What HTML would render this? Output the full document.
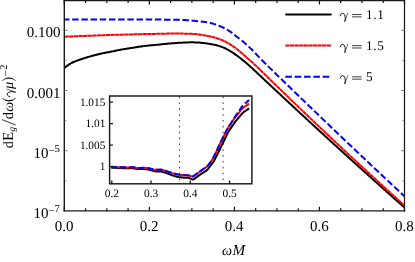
<!DOCTYPE html><html><head><meta charset="utf-8"><style>html,body{margin:0;padding:0;background:#fff;}svg{display:block;will-change:transform;}text{font-family:"Liberation Serif",serif;fill:#000;text-rendering:geometricPrecision;}</style></head><body>
<svg width="415" height="262" viewBox="0 0 415 262">
<rect width="415" height="262" fill="#fff"/>
<filter id="idf" x="0" y="0" width="415" height="262" filterUnits="userSpaceOnUse" color-interpolation-filters="sRGB"><feOffset dx="0" dy="0"/></filter><g filter="url(#idf)">
<defs><clipPath id="cm"><rect x="64.30" y="0" width="341.40" height="210.85"/></clipPath>
<clipPath id="ci"><rect x="109.6" y="96" width="142.5" height="88"/></clipPath></defs>
<g clip-path="url(#cm)" fill="none" stroke-width="2" stroke-linejoin="round">
<path d="M64.50,67.90 L65.50,67.09 L66.50,66.31 L67.50,65.56 L68.50,64.86 L69.50,64.19 L70.50,63.57 L71.50,63.00 L72.50,62.49 L73.50,62.02 L74.50,61.59 L75.50,61.20 L76.50,60.83 L77.50,60.48 L78.50,60.12 L79.50,59.77 L80.50,59.43 L81.50,59.09 L82.50,58.76 L83.50,58.44 L84.50,58.12 L85.50,57.81 L86.50,57.50 L87.50,57.20 L88.50,56.91 L89.50,56.62 L90.50,56.34 L91.50,56.06 L92.50,55.79 L93.50,55.51 L94.50,55.25 L95.50,54.99 L96.50,54.73 L97.50,54.48 L98.50,54.24 L99.50,54.00 L100.50,53.77 L101.50,53.55 L102.50,53.33 L103.50,53.12 L104.50,52.91 L105.50,52.72 L106.50,52.53 L107.50,52.34 L108.50,52.15 L109.50,51.96 L110.50,51.76 L111.50,51.56 L112.50,51.36 L113.50,51.15 L114.50,50.94 L115.50,50.74 L116.50,50.53 L117.50,50.33 L118.50,50.13 L119.50,49.94 L120.50,49.75 L121.50,49.57 L122.50,49.39 L123.50,49.22 L124.50,49.05 L125.50,48.89 L126.50,48.73 L127.50,48.57 L128.50,48.42 L129.50,48.26 L130.50,48.11 L131.50,47.96 L132.50,47.80 L133.50,47.64 L134.50,47.49 L135.50,47.33 L136.50,47.17 L137.50,47.01 L138.50,46.85 L139.50,46.70 L140.50,46.54 L141.50,46.40 L142.50,46.26 L143.50,46.12 L144.50,45.99 L145.50,45.87 L146.50,45.76 L147.50,45.66 L148.50,45.56 L149.50,45.46 L150.50,45.37 L151.50,45.28 L152.50,45.20 L153.50,45.11 L154.50,45.02 L155.50,44.93 L156.50,44.83 L157.50,44.74 L158.50,44.64 L159.50,44.53 L160.50,44.43 L161.50,44.32 L162.50,44.22 L163.50,44.11 L164.50,44.01 L165.50,43.91 L166.50,43.81 L167.50,43.72 L168.50,43.62 L169.50,43.54 L170.50,43.45 L171.50,43.37 L172.50,43.29 L173.50,43.21 L174.50,43.14 L175.50,43.07 L176.50,43.00 L177.50,42.93 L178.50,42.87 L179.50,42.81 L180.50,42.75 L181.50,42.69 L182.50,42.64 L183.50,42.59 L184.50,42.54 L185.50,42.49 L186.50,42.45 L187.50,42.41 L188.50,42.38 L189.50,42.36 L190.50,42.35 L191.50,42.35 L192.50,42.35 L193.50,42.36 L194.50,42.39 L195.50,42.42 L196.50,42.45 L197.50,42.50 L198.50,42.56 L199.50,42.62 L200.50,42.70 L201.50,42.78 L202.50,42.88 L203.50,43.00 L204.50,43.12 L205.50,43.25 L206.50,43.40 L207.50,43.55 L208.50,43.71 L209.50,43.87 L210.50,44.05 L211.50,44.23 L212.50,44.43 L213.50,44.63 L214.50,44.85 L215.50,45.07 L216.50,45.32 L217.50,45.57 L218.50,45.85 L219.50,46.15 L220.50,46.47 L221.50,46.81 L222.50,47.19 L223.50,47.59 L224.50,48.03 L225.50,48.49 L226.50,48.99 L227.50,49.52 L228.50,50.07 L229.50,50.65 L230.50,51.25 L231.50,51.87 L232.50,52.51 L233.50,53.18 L234.50,53.87 L235.50,54.57 L236.50,55.30 L237.50,56.04 L238.50,56.79 L239.50,57.54 L240.50,58.31 L241.50,59.09 L242.50,59.88 L243.50,60.68 L244.50,61.50 L245.50,62.33 L246.50,63.18 L247.50,64.04 L248.50,64.92 L249.50,65.81 L250.50,66.71 L251.50,67.62 L252.50,68.54 L253.50,69.47 L254.50,70.41 L255.50,71.34 L256.50,72.28 L257.50,73.23 L258.50,74.17 L259.50,75.12 L260.50,76.06 L261.50,77.00 L262.50,77.94 L263.50,78.89 L264.50,79.83 L265.50,80.77 L266.50,81.70 L267.50,82.64 L268.50,83.58 L269.50,84.52 L270.50,85.46 L271.50,86.39 L272.50,87.33 L273.50,88.27 L274.50,89.20 L275.50,90.14 L276.50,91.07 L277.50,92.01 L278.50,92.94 L279.50,93.88 L280.50,94.81 L281.50,95.75 L282.50,96.68 L283.50,97.61 L284.50,98.54 L285.50,99.47 L286.50,100.41 L287.50,101.34 L288.50,102.27 L289.50,103.20 L290.50,104.13 L291.50,105.06 L292.50,105.98 L293.50,106.91 L294.50,107.84 L295.50,108.77 L296.50,109.70 L297.50,110.62 L298.50,111.55 L299.50,112.47 L300.50,113.40 L301.50,114.33 L302.50,115.25 L303.50,116.17 L304.50,117.10 L305.50,118.02 L306.50,118.95 L307.50,119.87 L308.50,120.79 L309.50,121.71 L310.50,122.64 L311.50,123.56 L312.50,124.48 L313.50,125.40 L314.50,126.32 L315.50,127.24 L316.50,128.16 L317.50,129.08 L318.50,129.99 L319.50,130.91 L320.50,131.83 L321.50,132.75 L322.50,133.66 L323.50,134.58 L324.50,135.50 L325.50,136.41 L326.50,137.33 L327.50,138.24 L328.50,139.16 L329.50,140.07 L330.50,140.98 L331.50,141.90 L332.50,142.81 L333.50,143.72 L334.50,144.64 L335.50,145.55 L336.50,146.46 L337.50,147.37 L338.50,148.28 L339.50,149.19 L340.50,150.10 L341.50,151.01 L342.50,151.92 L343.50,152.83 L344.50,153.73 L345.50,154.64 L346.50,155.55 L347.50,156.46 L348.50,157.36 L349.50,158.27 L350.50,159.17 L351.50,160.08 L352.50,160.99 L353.50,161.89 L354.50,162.79 L355.50,163.70 L356.50,164.60 L357.50,165.50 L358.50,166.41 L359.50,167.31 L360.50,168.21 L361.50,169.11 L362.50,170.01 L363.50,170.91 L364.50,171.81 L365.50,172.71 L366.50,173.61 L367.50,174.51 L368.50,175.41 L369.50,176.31 L370.50,177.21 L371.50,178.10 L372.50,179.00 L373.50,179.90 L374.50,180.79 L375.50,181.69 L376.50,182.58 L377.50,183.48 L378.50,184.37 L379.50,185.27 L380.50,186.16 L381.50,187.06 L382.50,187.95 L383.50,188.84 L384.50,189.73 L385.50,190.62 L386.50,191.52 L387.50,192.41 L388.50,193.30 L389.50,194.19 L390.50,195.08 L391.50,195.97 L392.50,196.86 L393.50,197.74 L394.50,198.63 L395.50,199.52 L396.50,200.41 L397.50,201.29 L398.50,202.18 L399.50,203.07 L400.50,203.95 L401.50,204.84 L402.50,205.72 L403.50,206.61 L404.50,207.49" stroke="#000"/>
<path d="M64.50,36.70 L65.50,36.66 L66.50,36.62 L67.50,36.58 L68.50,36.54 L69.50,36.50 L70.50,36.47 L71.50,36.43 L72.50,36.39 L73.50,36.35 L74.50,36.31 L75.50,36.27 L76.50,36.23 L77.50,36.20 L78.50,36.16 L79.50,36.12 L80.50,36.08 L81.50,36.04 L82.50,36.01 L83.50,35.97 L84.50,35.93 L85.50,35.89 L86.50,35.86 L87.50,35.82 L88.50,35.78 L89.50,35.74 L90.50,35.71 L91.50,35.67 L92.50,35.63 L93.50,35.59 L94.50,35.56 L95.50,35.52 L96.50,35.48 L97.50,35.44 L98.50,35.40 L99.50,35.36 L100.50,35.32 L101.50,35.28 L102.50,35.25 L103.50,35.21 L104.50,35.17 L105.50,35.13 L106.50,35.09 L107.50,35.06 L108.50,35.02 L109.50,34.99 L110.50,34.95 L111.50,34.92 L112.50,34.89 L113.50,34.86 L114.50,34.83 L115.50,34.81 L116.50,34.78 L117.50,34.75 L118.50,34.73 L119.50,34.70 L120.50,34.68 L121.50,34.66 L122.50,34.63 L123.50,34.61 L124.50,34.58 L125.50,34.56 L126.50,34.54 L127.50,34.51 L128.50,34.49 L129.50,34.46 L130.50,34.44 L131.50,34.41 L132.50,34.38 L133.50,34.36 L134.50,34.33 L135.50,34.31 L136.50,34.28 L137.50,34.26 L138.50,34.23 L139.50,34.21 L140.50,34.18 L141.50,34.16 L142.50,34.14 L143.50,34.11 L144.50,34.09 L145.50,34.07 L146.50,34.05 L147.50,34.03 L148.50,34.01 L149.50,33.99 L150.50,33.97 L151.50,33.96 L152.50,33.94 L153.50,33.92 L154.50,33.90 L155.50,33.88 L156.50,33.86 L157.50,33.85 L158.50,33.83 L159.50,33.81 L160.50,33.78 L161.50,33.76 L162.50,33.74 L163.50,33.71 L164.50,33.69 L165.50,33.67 L166.50,33.64 L167.50,33.62 L168.50,33.60 L169.50,33.58 L170.50,33.56 L171.50,33.54 L172.50,33.53 L173.50,33.52 L174.50,33.52 L175.50,33.52 L176.50,33.52 L177.50,33.53 L178.50,33.53 L179.50,33.55 L180.50,33.56 L181.50,33.58 L182.50,33.59 L183.50,33.61 L184.50,33.64 L185.50,33.66 L186.50,33.68 L187.50,33.71 L188.50,33.74 L189.50,33.77 L190.50,33.81 L191.50,33.85 L192.50,33.90 L193.50,33.96 L194.50,34.03 L195.50,34.11 L196.50,34.21 L197.50,34.31 L198.50,34.44 L199.50,34.58 L200.50,34.72 L201.50,34.88 L202.50,35.05 L203.50,35.22 L204.50,35.39 L205.50,35.57 L206.50,35.76 L207.50,35.95 L208.50,36.14 L209.50,36.35 L210.50,36.56 L211.50,36.78 L212.50,37.02 L213.50,37.27 L214.50,37.54 L215.50,37.82 L216.50,38.12 L217.50,38.43 L218.50,38.77 L219.50,39.12 L220.50,39.49 L221.50,39.89 L222.50,40.30 L223.50,40.75 L224.50,41.22 L225.50,41.72 L226.50,42.25 L227.50,42.81 L228.50,43.38 L229.50,43.98 L230.50,44.59 L231.50,45.22 L232.50,45.87 L233.50,46.55 L234.50,47.26 L235.50,48.01 L236.50,48.78 L237.50,49.58 L238.50,50.40 L239.50,51.23 L240.50,52.08 L241.50,52.93 L242.50,53.79 L243.50,54.66 L244.50,55.53 L245.50,56.41 L246.50,57.29 L247.50,58.16 L248.50,59.04 L249.50,59.92 L250.50,60.81 L251.50,61.70 L252.50,62.60 L253.50,63.51 L254.50,64.43 L255.50,65.37 L256.50,66.32 L257.50,67.28 L258.50,68.25 L259.50,69.23 L260.50,70.21 L261.50,71.19 L262.50,72.16 L263.50,73.14 L264.50,74.12 L265.50,75.09 L266.50,76.06 L267.50,77.04 L268.50,78.01 L269.50,78.98 L270.50,79.95 L271.50,80.92 L272.50,81.89 L273.50,82.86 L274.50,83.83 L275.50,84.80 L276.50,85.77 L277.50,86.73 L278.50,87.70 L279.50,88.67 L280.50,89.64 L281.50,90.60 L282.50,91.57 L283.50,92.54 L284.50,93.50 L285.50,94.47 L286.50,95.43 L287.50,96.40 L288.50,97.36 L289.50,98.32 L290.50,99.29 L291.50,100.25 L292.50,101.21 L293.50,102.17 L294.50,103.14 L295.50,104.10 L296.50,105.06 L297.50,106.02 L298.50,106.98 L299.50,107.94 L300.50,108.89 L301.50,109.85 L302.50,110.81 L303.50,111.76 L304.50,112.72 L305.50,113.67 L306.50,114.62 L307.50,115.58 L308.50,116.53 L309.50,117.48 L310.50,118.43 L311.50,119.39 L312.50,120.34 L313.50,121.29 L314.50,122.24 L315.50,123.19 L316.50,124.14 L317.50,125.09 L318.50,126.04 L319.50,126.98 L320.50,127.93 L321.50,128.88 L322.50,129.83 L323.50,130.78 L324.50,131.72 L325.50,132.67 L326.50,133.61 L327.50,134.56 L328.50,135.51 L329.50,136.45 L330.50,137.40 L331.50,138.34 L332.50,139.28 L333.50,140.23 L334.50,141.17 L335.50,142.11 L336.50,143.05 L337.50,144.00 L338.50,144.94 L339.50,145.88 L340.50,146.82 L341.50,147.76 L342.50,148.70 L343.50,149.64 L344.50,150.58 L345.50,151.52 L346.50,152.46 L347.50,153.40 L348.50,154.33 L349.50,155.27 L350.50,156.21 L351.50,157.14 L352.50,158.07 L353.50,159.01 L354.50,159.94 L355.50,160.87 L356.50,161.80 L357.50,162.72 L358.50,163.65 L359.50,164.57 L360.50,165.50 L361.50,166.42 L362.50,167.34 L363.50,168.26 L364.50,169.18 L365.50,170.10 L366.50,171.02 L367.50,171.94 L368.50,172.86 L369.50,173.77 L370.50,174.69 L371.50,175.61 L372.50,176.53 L373.50,177.44 L374.50,178.36 L375.50,179.28 L376.50,180.19 L377.50,181.11 L378.50,182.02 L379.50,182.94 L380.50,183.85 L381.50,184.77 L382.50,185.68 L383.50,186.59 L384.50,187.50 L385.50,188.42 L386.50,189.33 L387.50,190.24 L388.50,191.15 L389.50,192.06 L390.50,192.97 L391.50,193.88 L392.50,194.79 L393.50,195.70 L394.50,196.61 L395.50,197.52 L396.50,198.43 L397.50,199.34 L398.50,200.25 L399.50,201.15 L400.50,202.06 L401.50,202.97 L402.50,203.87 L403.50,204.78 L404.50,205.69" stroke="#f00" stroke-dasharray="4.3 0.3"/>
<path d="M64.50,19.45 L65.50,19.45 L66.50,19.45 L67.50,19.45 L68.50,19.45 L69.50,19.45 L70.50,19.45 L71.50,19.45 L72.50,19.45 L73.50,19.45 L74.50,19.45 L75.50,19.45 L76.50,19.45 L77.50,19.45 L78.50,19.45 L79.50,19.45 L80.50,19.45 L81.50,19.45 L82.50,19.45 L83.50,19.45 L84.50,19.45 L85.50,19.45 L86.50,19.45 L87.50,19.45 L88.50,19.45 L89.50,19.45 L90.50,19.45 L91.50,19.45 L92.50,19.45 L93.50,19.45 L94.50,19.45 L95.50,19.45 L96.50,19.45 L97.50,19.45 L98.50,19.45 L99.50,19.45 L100.50,19.45 L101.50,19.45 L102.50,19.45 L103.50,19.45 L104.50,19.45 L105.50,19.45 L106.50,19.45 L107.50,19.45 L108.50,19.45 L109.50,19.45 L110.50,19.45 L111.50,19.45 L112.50,19.45 L113.50,19.45 L114.50,19.45 L115.50,19.45 L116.50,19.45 L117.50,19.45 L118.50,19.45 L119.50,19.45 L120.50,19.45 L121.50,19.45 L122.50,19.45 L123.50,19.45 L124.50,19.46 L125.50,19.46 L126.50,19.46 L127.50,19.46 L128.50,19.46 L129.50,19.47 L130.50,19.47 L131.50,19.47 L132.50,19.47 L133.50,19.48 L134.50,19.48 L135.50,19.48 L136.50,19.48 L137.50,19.48 L138.50,19.48 L139.50,19.49 L140.50,19.49 L141.50,19.49 L142.50,19.49 L143.50,19.49 L144.50,19.49 L145.50,19.49 L146.50,19.49 L147.50,19.50 L148.50,19.50 L149.50,19.50 L150.50,19.51 L151.50,19.51 L152.50,19.52 L153.50,19.53 L154.50,19.54 L155.50,19.55 L156.50,19.56 L157.50,19.57 L158.50,19.58 L159.50,19.59 L160.50,19.60 L161.50,19.61 L162.50,19.62 L163.50,19.63 L164.50,19.64 L165.50,19.65 L166.50,19.66 L167.50,19.67 L168.50,19.68 L169.50,19.70 L170.50,19.71 L171.50,19.72 L172.50,19.74 L173.50,19.75 L174.50,19.77 L175.50,19.78 L176.50,19.80 L177.50,19.82 L178.50,19.85 L179.50,19.87 L180.50,19.90 L181.50,19.93 L182.50,19.97 L183.50,20.01 L184.50,20.06 L185.50,20.12 L186.50,20.18 L187.50,20.24 L188.50,20.31 L189.50,20.39 L190.50,20.47 L191.50,20.56 L192.50,20.65 L193.50,20.75 L194.50,20.84 L195.50,20.94 L196.50,21.04 L197.50,21.14 L198.50,21.24 L199.50,21.34 L200.50,21.45 L201.50,21.56 L202.50,21.68 L203.50,21.81 L204.50,21.95 L205.50,22.10 L206.50,22.27 L207.50,22.45 L208.50,22.65 L209.50,22.86 L210.50,23.08 L211.50,23.33 L212.50,23.59 L213.50,23.87 L214.50,24.16 L215.50,24.48 L216.50,24.82 L217.50,25.19 L218.50,25.57 L219.50,25.97 L220.50,26.39 L221.50,26.83 L222.50,27.28 L223.50,27.75 L224.50,28.23 L225.50,28.75 L226.50,29.29 L227.50,29.86 L228.50,30.48 L229.50,31.13 L230.50,31.83 L231.50,32.56 L232.50,33.32 L233.50,34.10 L234.50,34.89 L235.50,35.67 L236.50,36.44 L237.50,37.21 L238.50,37.97 L239.50,38.73 L240.50,39.50 L241.50,40.29 L242.50,41.09 L243.50,41.92 L244.50,42.78 L245.50,43.66 L246.50,44.57 L247.50,45.49 L248.50,46.43 L249.50,47.38 L250.50,48.35 L251.50,49.33 L252.50,50.33 L253.50,51.34 L254.50,52.38 L255.50,53.43 L256.50,54.50 L257.50,55.57 L258.50,56.64 L259.50,57.70 L260.50,58.74 L261.50,59.77 L262.50,60.78 L263.50,61.78 L264.50,62.76 L265.50,63.74 L266.50,64.71 L267.50,65.68 L268.50,66.65 L269.50,67.62 L270.50,68.60 L271.50,69.57 L272.50,70.54 L273.50,71.52 L274.50,72.49 L275.50,73.46 L276.50,74.44 L277.50,75.41 L278.50,76.38 L279.50,77.36 L280.50,78.33 L281.50,79.30 L282.50,80.27 L283.50,81.24 L284.50,82.21 L285.50,83.18 L286.50,84.15 L287.50,85.12 L288.50,86.09 L289.50,87.06 L290.50,88.03 L291.50,89.00 L292.50,89.97 L293.50,90.93 L294.50,91.90 L295.50,92.87 L296.50,93.83 L297.50,94.80 L298.50,95.77 L299.50,96.73 L300.50,97.70 L301.50,98.66 L302.50,99.63 L303.50,100.59 L304.50,101.56 L305.50,102.52 L306.50,103.48 L307.50,104.45 L308.50,105.41 L309.50,106.37 L310.50,107.33 L311.50,108.30 L312.50,109.26 L313.50,110.22 L314.50,111.18 L315.50,112.14 L316.50,113.10 L317.50,114.06 L318.50,115.02 L319.50,115.98 L320.50,116.94 L321.50,117.89 L322.50,118.85 L323.50,119.81 L324.50,120.77 L325.50,121.73 L326.50,122.68 L327.50,123.64 L328.50,124.59 L329.50,125.55 L330.50,126.51 L331.50,127.46 L332.50,128.42 L333.50,129.37 L334.50,130.32 L335.50,131.28 L336.50,132.23 L337.50,133.19 L338.50,134.14 L339.50,135.09 L340.50,136.04 L341.50,136.99 L342.50,137.95 L343.50,138.90 L344.50,139.85 L345.50,140.80 L346.50,141.75 L347.50,142.70 L348.50,143.65 L349.50,144.60 L350.50,145.55 L351.50,146.50 L352.50,147.44 L353.50,148.39 L354.50,149.34 L355.50,150.29 L356.50,151.23 L357.50,152.18 L358.50,153.13 L359.50,154.07 L360.50,155.02 L361.50,155.96 L362.50,156.91 L363.50,157.85 L364.50,158.80 L365.50,159.74 L366.50,160.68 L367.50,161.63 L368.50,162.57 L369.50,163.51 L370.50,164.46 L371.50,165.40 L372.50,166.34 L373.50,167.28 L374.50,168.22 L375.50,169.16 L376.50,170.10 L377.50,171.04 L378.50,171.98 L379.50,172.92 L380.50,173.86 L381.50,174.80 L382.50,175.74 L383.50,176.68 L384.50,177.61 L385.50,178.55 L386.50,179.49 L387.50,180.43 L388.50,181.36 L389.50,182.30 L390.50,183.23 L391.50,184.17 L392.50,185.10 L393.50,186.04 L394.50,186.97 L395.50,187.91 L396.50,188.84 L397.50,189.77 L398.50,190.71 L399.50,191.64 L400.50,192.57 L401.50,193.51 L402.50,194.44 L403.50,195.37 L404.50,196.30" stroke="#00f" stroke-dasharray="6.45 2.74" stroke-dashoffset="1.5"/>
</g>
<g stroke="#1a1a1a" fill="none">
<path d="M64.3,0V211.55" stroke-width="1.4"/><path d="M404.5,0V211.55" stroke-width="1.25"/><path d="M63.6,0.45H405.1" stroke-width="1.4"/><path d="M63.6,210.85H405.1" stroke-width="1.45"/>
<path d="M64.30,210.85v-4.00M64.30,0.45v4.00M85.56,210.85v-2.50M85.56,0.45v2.50M106.82,210.85v-2.50M106.82,0.45v2.50M128.09,210.85v-2.50M128.09,0.45v2.50M149.35,210.85v-4.00M149.35,0.45v4.00M170.61,210.85v-2.50M170.61,0.45v2.50M191.88,210.85v-2.50M191.88,0.45v2.50M213.14,210.85v-2.50M213.14,0.45v2.50M234.40,210.85v-4.00M234.40,0.45v4.00M255.66,210.85v-2.50M255.66,0.45v2.50M276.93,210.85v-2.50M276.93,0.45v2.50M298.19,210.85v-2.50M298.19,0.45v2.50M319.45,210.85v-4.00M319.45,0.45v4.00M340.71,210.85v-2.50M340.71,0.45v2.50M361.98,210.85v-2.50M361.98,0.45v2.50M383.24,210.85v-2.50M383.24,0.45v2.50M404.50,210.85v-4.00M404.50,0.45v4.00" stroke-width="1.2" stroke="#111"/>
<path d="M64.30,30.30h3.40M404.50,30.30h-3.40M64.30,60.40h2.00M404.50,60.40h-2.00M64.30,90.50h3.40M404.50,90.50h-3.40M64.30,120.60h2.00M404.50,120.60h-2.00M64.30,150.70h3.40M404.50,150.70h-3.40M64.30,180.80h2.00M404.50,180.80h-2.00" stroke-width="0.7" stroke="#555"/>
</g>
<g font-size="15" text-anchor="end">
<text x="60.6" y="36.7">0.100</text>
<text x="60.6" y="97.7">0.001</text>
<text x="48.5" y="157.9">10</text>
<text x="48.5" y="217.9">10</text>
</g>
<g font-size="10.8">
<text x="48.5" y="152.4"><tspan dy="1.1">−</tspan><tspan dy="-1.1">5</tspan></text>
<text x="48.5" y="212.4"><tspan dy="1.1">−</tspan><tspan dy="-1.1">7</tspan></text>
</g>
<g font-size="15" text-anchor="middle">
<text x="64.10" y="230.7">0.0</text>
<text x="149.15" y="230.7">0.2</text>
<text x="234.20" y="230.7">0.4</text>
<text x="319.25" y="230.7">0.6</text>
<text x="404.30" y="230.7">0.8</text>
</g>
<text x="222.0" y="254.8" font-size="14.2" font-style="italic">ω</text><text x="232.5" y="254.8" font-size="15.2" font-style="italic">M</text>
<text transform="translate(12.60,148.20) rotate(-90)" font-size="14" >d</text>
<text transform="translate(12.60,141.10) rotate(-90)" font-size="15.2" >E</text>
<text transform="translate(15.30,131.80) rotate(-90)" font-size="9.6" font-style="italic">g</text>
<path d="M15.7,125.0L1.9,119.6" stroke="#000" stroke-width="0.8" fill="none"/>
<text transform="translate(12.60,119.30) rotate(-90)" font-size="14.4" >d</text>
<text transform="translate(12.60,111.80) rotate(-90)" font-size="14" font-style="italic">ω</text>
<path transform="translate(12.6,103.10) rotate(-90) scale(1.440)" d="M3.6,-7.5 Q-1.2,-2.5 3.6,2.5 Q0.3,-2.5 3.6,-7.5Z" fill="#000" stroke="#000" stroke-width="0.15"/>
<g transform="translate(12.60,96.90) rotate(-90) scale(1.000)" fill="none" stroke="#000" stroke-linecap="round"><path d="M0.2,-2.9 C0.7,-4.7 1.8,-5.6 2.9,-5.45 C4.3,-5.2 5.1,-3.3 5.3,-0.7 L4.85,2.6" stroke-width="0.9"/><path d="M7.75,-5.6 C7.2,-3.3 5.8,-0.4 4.85,2.6" stroke-width="0.6"/></g>
<text transform="translate(12.60,89.00) rotate(-90)" font-size="14.4" font-style="italic">μ</text>
<path transform="translate(12.6,81.40) rotate(-90) scale(1.440)" d="M0.3,-7.5 Q5.1,-2.5 0.3,2.5 Q3.6,-2.5 0.3,-7.5Z" fill="#000" stroke="#000" stroke-width="0.15"/>
<text transform="translate(8.60,76.20) rotate(-90)" font-size="11" >−</text>
<text transform="translate(7.20,69.80) rotate(-90)" font-size="10.4" >2</text>
<g fill="none" stroke-width="2">
<path d="M285.3,14.45H331.6" stroke="#000"/>
<path d="M285.3,45.45H331.0" stroke="#f00" stroke-dasharray="4.27 0.33"/>
<path d="M285.3,76.8H331.7" stroke="#00f" stroke-dasharray="6.6 2.75"/>
</g>
<g transform="translate(340.00,18.70) scale(1.000)" fill="none" stroke="#000" stroke-linecap="round"><path d="M0.2,-2.9 C0.7,-4.7 1.8,-5.6 2.9,-5.45 C4.3,-5.2 5.1,-3.3 5.3,-0.7 L4.85,2.6" stroke-width="0.9"/><path d="M7.75,-5.6 C7.2,-3.3 5.8,-0.4 4.85,2.6" stroke-width="0.6"/></g><path d="M352.1,14.55H361.7M352.1,16.87H361.7" stroke="#000" stroke-width="0.75" fill="none"/><text x="366.1" y="18.70" font-size="13.2" letter-spacing="0.65">1.1</text>
<g transform="translate(340.00,49.80) scale(1.000)" fill="none" stroke="#000" stroke-linecap="round"><path d="M0.2,-2.9 C0.7,-4.7 1.8,-5.6 2.9,-5.45 C4.3,-5.2 5.1,-3.3 5.3,-0.7 L4.85,2.6" stroke-width="0.9"/><path d="M7.75,-5.6 C7.2,-3.3 5.8,-0.4 4.85,2.6" stroke-width="0.6"/></g><path d="M352.1,45.65H361.7M352.1,47.97H361.7" stroke="#000" stroke-width="0.75" fill="none"/><text x="366.1" y="49.80" font-size="13.2" letter-spacing="0.65">1.5</text>
<g transform="translate(340.00,81.00) scale(1.000)" fill="none" stroke="#000" stroke-linecap="round"><path d="M0.2,-2.9 C0.7,-4.7 1.8,-5.6 2.9,-5.45 C4.3,-5.2 5.1,-3.3 5.3,-0.7 L4.85,2.6" stroke-width="0.9"/><path d="M7.75,-5.6 C7.2,-3.3 5.8,-0.4 4.85,2.6" stroke-width="0.6"/></g><path d="M352.1,76.85H361.7M352.1,79.17H361.7" stroke="#000" stroke-width="0.75" fill="none"/><text x="366.1" y="81.00" font-size="13.2" letter-spacing="0.65">5</text>
<rect x="109.6" y="96.0" width="142.3" height="87.9" fill="#fff" stroke="none"/>
<g stroke="#484848" stroke-width="1.1" stroke-dasharray="1.6 4.25" fill="none"><path d="M179.5,96.6V184"/><path d="M223.1,96.6V184"/></g>
<g clip-path="url(#ci)" fill="none" stroke-width="2" stroke-linejoin="round">
<path d="M111.00,167.60 L112.00,167.65 L113.00,167.70 L114.00,167.75 L115.00,167.80 L116.00,167.85 L117.00,167.90 L118.00,167.95 L119.00,167.99 L120.00,168.03 L121.00,168.06 L122.00,168.10 L123.00,168.13 L124.00,168.17 L125.00,168.20 L126.00,168.23 L127.00,168.27 L128.00,168.29 L129.00,168.30 L130.00,168.30 L131.00,168.30 L132.00,168.30 L133.00,168.31 L134.00,168.41 L135.00,168.61 L136.00,168.81 L137.00,169.00 L138.00,169.08 L139.00,169.07 L140.00,169.06 L141.00,169.04 L142.00,169.02 L143.00,169.01 L144.00,169.05 L145.00,169.13 L146.00,169.22 L147.00,169.31 L148.00,169.44 L149.00,169.69 L150.00,169.98 L151.00,170.27 L152.00,170.56 L153.00,170.85 L154.00,171.10 L155.00,171.29 L156.00,171.39 L157.00,171.40 L158.00,171.40 L159.00,171.40 L160.00,171.40 L161.00,171.45 L162.00,171.68 L163.00,171.98 L164.00,172.28 L165.00,172.58 L166.00,172.89 L167.00,173.23 L168.00,173.62 L169.00,174.02 L170.00,174.42 L171.00,174.82 L172.00,175.21 L173.00,175.54 L174.00,175.85 L175.00,176.15 L176.00,176.45 L177.00,176.75 L178.00,177.00 L179.00,177.13 L180.00,177.24 L181.00,177.35 L182.00,177.46 L183.00,177.56 L184.00,177.64 L185.00,177.69 L186.00,177.74 L187.00,177.80 L188.00,177.85 L189.00,177.99 L190.00,178.35 L191.00,178.76 L192.00,179.17 L193.00,179.47 L194.00,179.15 L195.00,178.41 L196.00,177.65 L197.00,176.89 L198.00,176.13 L199.00,175.39 L200.00,174.72 L201.00,174.07 L202.00,173.43 L203.00,172.78 L204.00,172.13 L205.00,171.49 L206.00,170.84 L207.00,170.13 L208.00,169.06 L209.00,167.76 L210.00,166.44 L211.00,165.12 L212.00,163.80 L213.00,162.48 L214.00,161.00 L215.00,159.10 L216.00,157.10 L217.00,155.10 L218.00,153.09 L219.00,151.04 L220.00,148.98 L221.00,146.92 L222.00,144.86 L223.00,142.81 L224.00,140.76 L225.00,138.70 L226.00,136.65 L227.00,134.60 L228.00,132.55 L229.00,130.70 L230.00,129.21 L231.00,127.80 L232.00,126.39 L233.00,124.99 L234.00,123.58 L235.00,122.17 L236.00,120.78 L237.00,119.52 L238.00,118.36 L239.00,117.21 L240.00,116.05 L241.00,114.90 L242.00,113.75 L243.00,112.68 L244.00,111.91 L245.00,111.21 L246.00,110.51 L247.00,109.82 L248.00,109.12 L249.00,108.43" stroke="#000"/>
<path d="M111.00,166.95 L112.00,166.99 L113.00,167.02 L114.00,167.06 L115.00,167.10 L116.00,167.14 L117.00,167.17 L118.00,167.21 L119.00,167.24 L120.00,167.27 L121.00,167.29 L122.00,167.32 L123.00,167.34 L124.00,167.36 L125.00,167.38 L126.00,167.41 L127.00,167.43 L128.00,167.44 L129.00,167.43 L130.00,167.41 L131.00,167.40 L132.00,167.38 L133.00,167.37 L134.00,167.46 L135.00,167.66 L136.00,167.86 L137.00,168.05 L138.00,168.12 L139.00,168.10 L140.00,168.06 L141.00,168.03 L142.00,168.00 L143.00,167.97 L144.00,167.99 L145.00,168.05 L146.00,168.12 L147.00,168.18 L148.00,168.28 L149.00,168.49 L150.00,168.72 L151.00,168.96 L152.00,169.20 L153.00,169.43 L154.00,169.62 L155.00,169.77 L156.00,169.84 L157.00,169.82 L158.00,169.81 L159.00,169.79 L160.00,169.77 L161.00,169.80 L162.00,169.99 L163.00,170.26 L164.00,170.53 L165.00,170.79 L166.00,171.06 L167.00,171.37 L168.00,171.72 L169.00,172.09 L170.00,172.45 L171.00,172.81 L172.00,173.16 L173.00,173.43 L174.00,173.67 L175.00,173.90 L176.00,174.13 L177.00,174.36 L178.00,174.56 L179.00,174.70 L180.00,174.83 L181.00,174.96 L182.00,175.08 L183.00,175.20 L184.00,175.27 L185.00,175.31 L186.00,175.35 L187.00,175.38 L188.00,175.42 L189.00,175.54 L190.00,175.86 L191.00,176.22 L192.00,176.57 L193.00,176.53 L194.00,175.89 L195.00,175.16 L196.00,174.43 L197.00,173.69 L198.00,172.96 L199.00,172.23 L200.00,171.52 L201.00,170.83 L202.00,170.13 L203.00,169.44 L204.00,168.74 L205.00,168.05 L206.00,167.35 L207.00,166.60 L208.00,165.51 L209.00,164.21 L210.00,162.89 L211.00,161.57 L212.00,160.18 L213.00,158.44 L214.00,156.45 L215.00,154.45 L216.00,152.44 L217.00,150.33 L218.00,148.14 L219.00,145.94 L220.00,143.75 L221.00,141.67 L222.00,139.68 L223.00,137.71 L224.00,135.73 L225.00,133.75 L226.00,131.77 L227.00,129.83 L228.00,128.13 L229.00,126.58 L230.00,125.04 L231.00,123.50 L232.00,121.96 L233.00,120.43 L234.00,118.89 L235.00,117.43 L236.00,116.17 L237.00,114.96 L238.00,113.75 L239.00,112.54 L240.00,111.33 L241.00,110.12 L242.00,108.92 L243.00,107.96 L244.00,107.23 L245.00,106.51 L246.00,105.79 L247.00,105.08 L248.00,104.36 L249.00,103.64" stroke="#f00"/>
<path d="M111.00,166.80 L112.00,166.84 L113.00,166.87 L114.00,166.91 L115.00,166.95 L116.00,166.99 L117.00,167.02 L118.00,167.06 L119.00,167.09 L120.00,167.12 L121.00,167.14 L122.00,167.17 L123.00,167.19 L124.00,167.21 L125.00,167.23 L126.00,167.26 L127.00,167.28 L128.00,167.29 L129.00,167.28 L130.00,167.26 L131.00,167.25 L132.00,167.23 L133.00,167.22 L134.00,167.31 L135.00,167.51 L136.00,167.71 L137.00,167.90 L138.00,167.97 L139.00,167.95 L140.00,167.91 L141.00,167.88 L142.00,167.85 L143.00,167.82 L144.00,167.84 L145.00,167.90 L146.00,167.97 L147.00,168.03 L148.00,168.13 L149.00,168.34 L150.00,168.57 L151.00,168.81 L152.00,169.05 L153.00,169.28 L154.00,169.47 L155.00,169.62 L156.00,169.69 L157.00,169.67 L158.00,169.66 L159.00,169.64 L160.00,169.62 L161.00,169.65 L162.00,169.84 L163.00,170.11 L164.00,170.38 L165.00,170.64 L166.00,170.91 L167.00,171.22 L168.00,171.57 L169.00,171.94 L170.00,172.30 L171.00,172.66 L172.00,173.01 L173.00,173.28 L174.00,173.52 L175.00,173.75 L176.00,173.98 L177.00,174.21 L178.00,174.41 L179.00,174.55 L180.00,174.68 L181.00,174.81 L182.00,174.93 L183.00,175.05 L184.00,175.12 L185.00,175.16 L186.00,175.20 L187.00,175.23 L188.00,175.27 L189.00,175.39 L190.00,175.71 L191.00,176.07 L192.00,176.42 L193.00,176.38 L194.00,175.74 L195.00,175.01 L196.00,174.28 L197.00,173.54 L198.00,172.81 L199.00,172.08 L200.00,171.37 L201.00,170.68 L202.00,169.98 L203.00,169.29 L204.00,168.59 L205.00,167.90 L206.00,167.20 L207.00,166.45 L208.00,165.36 L209.00,164.06 L210.00,162.74 L211.00,161.42 L212.00,160.03 L213.00,158.29 L214.00,156.30 L215.00,154.30 L216.00,152.29 L217.00,150.18 L218.00,147.99 L219.00,145.79 L220.00,143.60 L221.00,141.51 L222.00,139.52 L223.00,137.54 L224.00,135.55 L225.00,133.57 L226.00,131.58 L227.00,129.63 L228.00,127.90 L229.00,126.32 L230.00,124.74 L231.00,123.16 L232.00,121.58 L233.00,120.00 L234.00,118.42 L235.00,116.87 L236.00,115.39 L237.00,113.93 L238.00,112.47 L239.00,111.01 L240.00,109.55 L241.00,108.09 L242.00,106.65 L243.00,105.47 L244.00,104.54 L245.00,103.64 L246.00,102.74 L247.00,101.83 L248.00,100.93 L249.00,100.02" stroke="#00f" stroke-dasharray="6.45 2.74" stroke-dashoffset="0.43"/>
</g>
<g stroke="#1a1a1a" fill="none">
<rect x="109.6" y="96.0" width="142.3" height="87.8" stroke-width="1.45"/>
<path d="M111.80,183.9v-3.3M109.6,166.70h3.4M151.05,183.9v-3.3M109.6,145.20h3.4M190.30,183.9v-3.3M109.6,123.70h3.4M229.55,183.9v-3.3M109.6,102.20h3.4" stroke-width="1.3"/>
</g>
<g font-size="11.3" text-anchor="end">
<text x="105.3" y="169.90">1</text>
<text x="105.3" y="148.50">1.005</text>
<text x="105.3" y="127.00">1.01</text>
<text x="105.3" y="105.50">1.015</text>
</g>
<g font-size="11.4" text-anchor="middle">
<text x="111.90" y="196.7">0.2</text>
<text x="151.15" y="196.7">0.3</text>
<text x="190.40" y="196.7">0.4</text>
<text x="229.65" y="196.7">0.5</text>
</g>
</g></svg></body></html>
